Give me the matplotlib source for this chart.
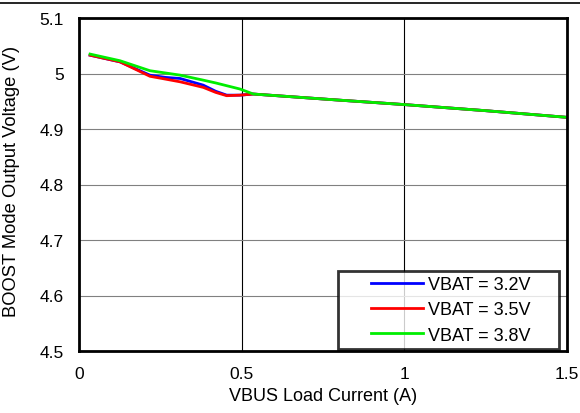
import matplotlib.pyplot as plt
from matplotlib.lines import Line2D
from matplotlib.legend_handler import HandlerLine2D

plt.rcParams['font.family'] = ['Liberation Sans', 'DejaVu Sans']

# measured curves
x_common = [0.034, 0.126, 0.218, 0.265, 0.311, 0.382, 0.420, 0.454, 0.495, 0.536, 0.8, 1.0, 1.25, 1.5]
v32 = [5.033, 5.021, 4.997, 4.993, 4.991, 4.979, 4.968, 4.961, 4.961, 4.963, 4.952, 4.944, 4.933, 4.921]
v35 = [5.033, 5.021, 4.995, 4.990, 4.985, 4.975, 4.966, 4.960, 4.961, 4.963, 4.952, 4.944, 4.933, 4.921]
v38 = [5.035, 5.023, 5.005, 5.001, 4.997, 4.988, 4.983, 4.978, 4.972, 4.963, 4.952, 4.944, 4.933, 4.921]

labels = ['VBAT = 3.2V', 'VBAT = 3.5V', 'VBAT = 3.8V']
colors = ['#0000ff', '#ff0000', '#00ee00']

fig = plt.figure(figsize=(5.8, 4.14), dpi=100)
ax = fig.add_axes([79 / 580, 1 - 352 / 414, 488 / 580, 333 / 414])

for y, c, lab in zip([v32, v35, v38], colors, labels):
    ax.plot(x_common, y, color=c, lw=2, label=lab)

ax.set_xlim(0, 1.5)
ax.set_ylim(4.5, 5.1)
ax.set_xticks([0, 0.5, 1, 1.5])
ax.set_xticklabels(['0', '0.5', '1', '1.5'])
ax.set_yticks([4.5, 4.6, 4.7, 4.8, 4.9, 5.0, 5.1])
ax.set_yticklabels(['4.5', '4.6', '4.7', '4.8', '4.9', '5', '5.1'])
ax.tick_params(length=0, labelsize=12.5)
ax.tick_params(axis='x', pad=11)
ax.tick_params(axis='y', pad=11)
ax.xaxis.grid(True, color='black', lw=0.8)
ax.yaxis.grid(True, color='#808080', lw=0.8)
ax.set_axisbelow(True)
for s in ax.spines.values():
    s.set_linewidth(2)

ax.set_xlabel('VBUS Load Current (A)', fontsize=13, labelpad=4)
ax.set_ylabel('BOOST Mode Output Voltage (V)', fontsize=13.2)
ax.yaxis.set_label_coords(-0.12, 0.512)

# legend box spans roughly x 338..568 px, bottom at 350 px
leg = ax.legend(loc='lower left', bbox_to_anchor=(0.531, 0.006, 0.452, 0.24),
                mode='expand', borderaxespad=0, fontsize=13, frameon=True,
                fancybox=False, edgecolor='black', handlelength=4.4,
                labelspacing=0.45, borderpad=0.3, handletextpad=0.3,
                handler_map={Line2D: HandlerLine2D(xpad=1.5)})
leg.get_frame().set_linewidth(2)

# top rule across the figure
fig.add_artist(Line2D([0, 1], [1 - 4 / 414, 1 - 4 / 414], color='black', lw=1.2))

fig.savefig('out.png', dpi=100)
